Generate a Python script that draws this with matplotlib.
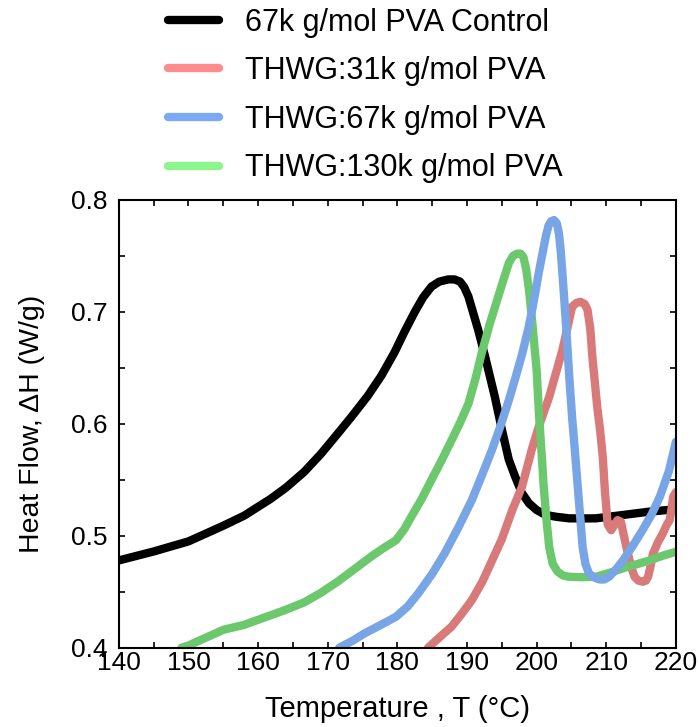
import matplotlib
matplotlib.use("Agg")
import matplotlib.pyplot as plt
from matplotlib.lines import Line2D
from matplotlib.ticker import MultipleLocator

plt.rcParams['font.family'] = ['Liberation Sans', 'DejaVu Sans']

# ---- data (temperature in °C, heat flow in W/g)
t_ctrl = [140, 145, 150, 155, 158, 161.8, 164, 166.6, 169, 171.4, 173.5, 175.75, 177.7,
          179.6, 181, 182.5, 183.7, 184.9, 186, 187.3, 188.2, 189.0, 189.6, 190.2, 191.6,
          192.6, 194.0, 195.0, 196.0, 196.9, 197.9, 198.9, 200.0, 201.3, 202.8, 204.65,
          206.5, 208.5, 212.4, 216.2, 220]
h_ctrl = [0.478, 0.486, 0.495, 0.509, 0.518, 0.533, 0.543, 0.557, 0.573, 0.591, 0.607,
          0.625, 0.643, 0.664, 0.682, 0.700, 0.713, 0.7226, 0.727, 0.729, 0.729, 0.727,
          0.722, 0.7137, 0.684, 0.660, 0.624, 0.595, 0.568, 0.553, 0.538, 0.529, 0.523,
          0.5186, 0.517, 0.5156, 0.5155, 0.5156, 0.5186, 0.5216, 0.5237]

t_31k = [184.4, 186, 187.8, 189.2, 190.7, 192.2, 193.6, 195.0, 196.5, 197.9, 199.3,
         200.3, 201.8, 203.7, 205.1, 205.7, 206.3, 206.9, 207.3, 207.7, 208.0, 208.7,
         209.1, 209.5, 209.8, 210.2, 210.7, 211.2, 211.6, 212.1, 212.6, 213.1, 213.6,
         214.05, 214.6, 215.25, 215.7, 216.0, 216.4, 216.7, 217.4, 218.1, 218.7, 219.1,
         219.4, 219.6, 220]
h_31k = [0.400, 0.409, 0.419, 0.430, 0.4426, 0.459, 0.478, 0.497, 0.523, 0.544, 0.577,
         0.5975, 0.624, 0.666, 0.7047, 0.708, 0.709, 0.707, 0.702, 0.685, 0.660, 0.615,
         0.595, 0.570, 0.540, 0.510, 0.505, 0.510, 0.514, 0.5126, 0.498, 0.484, 0.472,
         0.4634, 0.460, 0.459, 0.460, 0.4634, 0.474, 0.484, 0.494, 0.502, 0.510, 0.514,
         0.525, 0.535, 0.539]

t_67k = [171.65, 173.5, 175.3, 177.5, 179.8, 181.5, 183.0, 185.0, 186.8, 188.8, 190.7,
         192.2, 193.6, 194.8, 196.0, 196.9, 197.9, 198.8, 199.3, 199.8, 200.3, 200.8,
         201.3, 201.7, 202.1, 202.5, 202.9, 203.2, 203.45, 203.7, 204.2, 204.65, 205.1,
         205.4, 205.9, 206.6, 207.0, 207.5, 208.2, 209.0, 209.7, 210.4, 211.4, 212.4,
         213.8, 215.2, 216.5, 217.7, 219, 220]
h_67k = [0.400, 0.406, 0.4129, 0.420, 0.4277, 0.437, 0.4486, 0.466, 0.4844, 0.508, 0.532,
         0.555, 0.577, 0.598, 0.621, 0.640, 0.662, 0.685, 0.700, 0.717, 0.735, 0.751,
         0.767, 0.777, 0.781, 0.782, 0.779, 0.770, 0.755, 0.7346, 0.690, 0.645, 0.605,
         0.583, 0.544, 0.490, 0.475, 0.4665, 0.463, 0.461, 0.461, 0.4634, 0.470, 0.478,
         0.491, 0.505, 0.519, 0.535, 0.558, 0.584]

t_130k = [149, 150, 152.5, 155, 158, 160, 161.8, 164, 166.6, 169, 171.4, 174, 176.2, 178,
          179.8, 181, 182.0, 183.5, 184.9, 186.4, 187.8, 189.0, 190.2, 191.2, 192.1,
          193.3, 194.5, 195.3, 196.0, 196.6, 197.2, 197.7, 198.1, 198.5, 198.9, 199.3,
          199.6, 200.0, 200.3, 200.8, 201.0, 201.4, 201.8, 202.3, 203.0, 203.8, 204.65,
          206.5, 208.5, 210.5, 212.4, 214.3, 216.2, 218, 220]
h_130k = [0.400, 0.402, 0.409, 0.416, 0.4205, 0.425, 0.429, 0.434, 0.4405, 0.449, 0.459,
          0.471, 0.4813, 0.489, 0.496, 0.506, 0.517, 0.533, 0.550, 0.568, 0.5856, 0.601,
          0.618, 0.640, 0.663, 0.690, 0.714, 0.730, 0.7435, 0.750, 0.752, 0.752, 0.749,
          0.738, 0.7197, 0.695, 0.675, 0.648, 0.612, 0.565, 0.545, 0.515, 0.490, 0.475,
          0.468, 0.4645, 0.4634, 0.4630, 0.4634, 0.467, 0.471, 0.4745, 0.478, 0.482, 0.4858]

labels = ["67k g/mol PVA Control", "THWG:31k g/mol PVA",
          "THWG:67k g/mol PVA", "THWG:130k g/mol PVA"]
line_colors = ['#000000', '#d87a7a', '#78a5e5', '#6cc86c']
legend_colors = ['#000000', '#ff8c8c', '#7aaaf5', '#8cf58c']

fig = plt.figure(figsize=(6.99, 7.27), dpi=100)
ax = fig.add_axes([0.170, 0.109, 0.797, 0.616])

# drawing order: control, 31k, 130k, 67k
series = [(t_ctrl, h_ctrl), (t_31k, h_31k), (t_130k, h_130k), (t_67k, h_67k)]
cols = [line_colors[0], line_colors[1], line_colors[3], line_colors[2]]
for (t, h), c in zip(series, cols):
    ax.plot(t, h, color=c, lw=6, solid_joinstyle='round', solid_capstyle='round')

ax.set_xlim(140, 220)
ax.set_ylim(0.4, 0.8)
ax.xaxis.set_major_locator(MultipleLocator(10))
ax.xaxis.set_minor_locator(MultipleLocator(5))
ax.yaxis.set_major_locator(MultipleLocator(0.1))
ax.yaxis.set_minor_locator(MultipleLocator(0.05))
ax.tick_params(which='both', direction='in', top=True, right=True, length=4.5, width=1.2)
ax.tick_params(axis='x', labelsize=19, pad=2)
ax.tick_params(axis='y', labelsize=19, pad=8)
for s in ax.spines.values():
    s.set_linewidth(1.5)

ax.set_xlabel("Temperature , T (°C)", fontsize=21, labelpad=15)
ax.set_ylabel("Heat Flow, ΔH (W/g)", fontsize=20.5, labelpad=19)

handles = [Line2D([], [], color=c, lw=6, solid_capstyle='round') for c in legend_colors]
fig.legend(handles, labels, loc='upper left', bbox_to_anchor=(0.201, 1.0275),
           frameon=False, fontsize=22, handlelength=1.67, handletextpad=0.85,
           labelspacing=0.61)

fig.savefig("out.png", dpi=100)
plt.close()
